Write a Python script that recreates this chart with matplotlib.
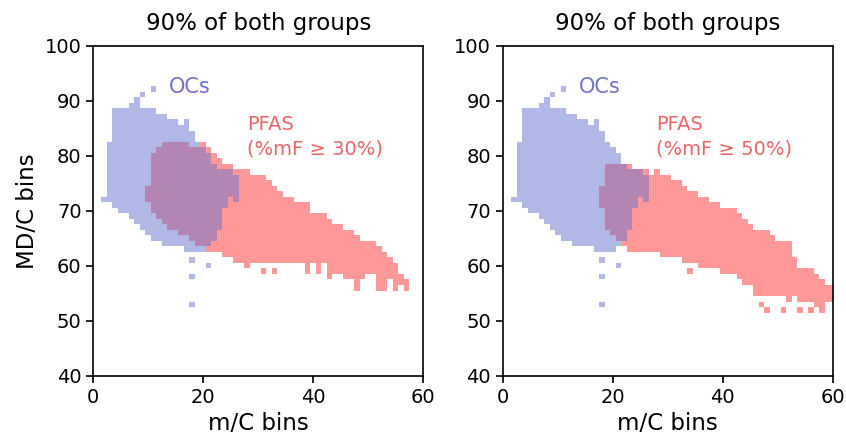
import numpy as np
import matplotlib.pyplot as plt
from matplotlib.colors import ListedColormap

# OCs 90% region: one (low, high) MD/C bin range for each m/C bin column
ocs_x = list(range(2, 27))
ocs_lo = [72, 72, 71, 70, 70, 69, 68, 67, 66, 65, 65, 64, 64, 64, 64, 63, 63, 63, 63, 64, 65, 67, 71, 73, 72]
ocs_hi = [72, 82, 88, 88, 88, 89, 90, 88, 88, 88, 87, 87, 86, 86, 85, 85, 84, 82, 81, 80, 78, 77, 77, 77, 76]
ocs_ex_x = [9, 11, 17, 18, 21, 18, 18]
ocs_ex_y = [91, 92, 86, 61, 60, 58, 53]

# PFAS (%mF >= 30%)
p30_x = list(range(10, 58))
p30_lo = [72, 70, 69, 68, 67, 67, 66, 66, 65, 64, 64, 63, 63, 63, 62, 62, 61, 61, 60, 61, 61, 61, 61, 61,
          61, 61, 61, 61, 61, 59, 61, 60, 61, 58, 60, 59, 59, 58, 57, 58, 59, 59, 57, 56, 58, 57, 57, 56]
p30_hi = [74, 80, 81, 82, 82, 82, 82, 82, 81, 81, 82, 81, 80, 79, 78, 78, 77, 77, 77, 76, 76, 76, 75, 74,
          73, 72, 72, 71, 71, 71, 69, 69, 69, 68, 67, 67, 66, 66, 65, 64, 64, 64, 63, 62, 61, 60, 58, 57]
p30_ex_x = [31, 33, 41, 44, 46, 48, 52, 55]
p30_ex_y = [59, 59, 59, 59, 58, 56, 56, 56]

# PFAS (%mF >= 50%)
p50_x = list(range(18, 61))
p50_lo = [71, 67, 66, 65, 64, 63, 63, 63, 63, 63, 63, 62, 62, 62, 62, 61, 61, 61, 60, 60, 60, 60,
          59, 59, 59, 58, 57, 57, 55, 55, 55, 55, 55, 55, 54, 55, 54, 54, 54, 53, 53, 54, 54]
p50_hi = [74, 78, 78, 78, 78, 78, 77, 77, 77, 76, 77, 76, 76, 75, 75, 74, 73, 73, 72, 72, 71, 71,
          70, 70, 70, 69, 68, 67, 66, 66, 66, 65, 64, 64, 64, 61, 59, 59, 59, 58, 57, 56, 56]
p50_ex_x = [34, 47, 48, 51, 54, 56, 58]
p50_ex_y = [59, 53, 52, 52, 52, 52, 52]

panels = [("30%", p30_x, p30_lo, p30_hi, p30_ex_x, p30_ex_y),
          ("50%", p50_x, p50_lo, p50_hi, p50_ex_x, p50_ex_y)]


def make_grid(xs, lo, hi, ex, ey):
    g = np.zeros((101, 101), bool)
    for x, a, b in zip(xs, lo, hi):
        g[a:b + 1, x] = True
    g[ey, ex] = True
    return g


def draw(ax, g, color):
    ax.imshow(np.ma.masked_where(~g, g.astype(float)), cmap=ListedColormap([color]),
              origin='lower', extent=(-0.5, 100.5, -0.5, 100.5), alpha=0.5,
              interpolation='nearest', aspect='auto')


fig = plt.figure(figsize=(8.46, 4.37), dpi=100)
ocs = make_grid(ocs_x, ocs_lo, ocs_hi, ocs_ex_x, ocs_ex_y)

for i, (pct, px, plo, phi, pex, pey) in enumerate(panels):
    ax = fig.add_axes([0.1103 + i * 0.4839, 0.1396, 0.390, 0.756])
    draw(ax, make_grid(px, plo, phi, pex, pey), '#ff3333')
    draw(ax, ocs, '#6571cd')
    ax.set_xlim(0, 60)
    ax.set_ylim(40, 100)
    ax.set_xticks([0, 20, 40, 60])
    ax.set_yticks(range(40, 101, 10))
    ax.tick_params(labelsize=14, width=1.2, length=5)
    for s in ax.spines.values():
        s.set_linewidth(1.2)
    ax.set_title("90% of both groups", fontsize=16.5, pad=11)
    ax.set_xlabel("m/C bins", fontsize=16.5)
    if i == 0:
        ax.set_ylabel("MD/C bins", fontsize=16.5)
    ax.text(13.8, 92.4, "OCs", color='#7171c9', fontsize=15, va='center')
    ax.text(27.9, 83.4, "PFAS\n(%mF \u2265 " + pct + ")", color='#e86565',
            fontsize=14, va='center', linespacing=1.35)

fig.savefig("out.png", dpi=100)
